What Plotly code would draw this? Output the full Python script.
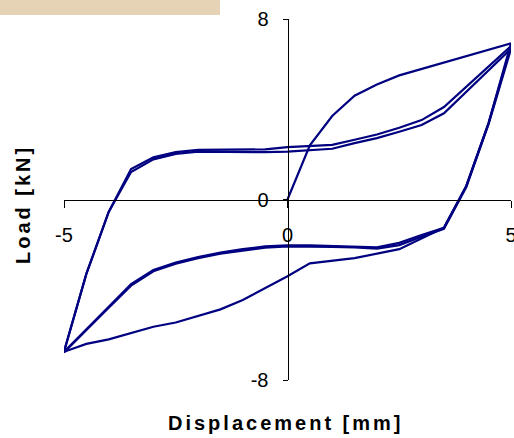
import plotly.graph_objects as go

# Displacement steps (mm) and measured load (kN) for each loading branch
disp_virgin = [0.0, 0.5, 1.0, 1.5, 2.0, 2.5, 5.0]
load_virgin = [0.0, 2.4, 3.7, 4.6, 5.1, 5.5, 6.92]

disp_unload_1 = [5.0, 4.5, 4.0, 3.5, 2.5, 2.0, 1.5, 0.5, 0.0, -1.0, -1.5, -2.5, -3.0, -4.0, -4.5, -5.0]
load_unload_1 = [6.92, 3.4, 0.6, -1.25, -2.2, -2.39, -2.6, -2.83, -3.4, -4.45, -4.87, -5.45, -5.64, -6.2, -6.4, -6.75]

disp_reload = [-5.0, -4.5, -4.0, -3.5, -3.0, -2.5, -2.0, -1.0, -0.5, 0.0, 0.5, 1.0, 1.5, 2.0, 2.5, 3.0, 3.5, 5.0]
load_reload_1 = [-6.75, -3.3, -0.55, 1.35, 1.87, 2.1, 2.2, 2.2, 2.22, 2.32, 2.36, 2.42, 2.65, 2.88, 3.18, 3.52, 4.1, 6.8]
load_reload_2 = [-6.75, -3.3, -0.55, 1.22, 1.78, 2.02, 2.12, 2.1, 2.1, 2.12, 2.2, 2.25, 2.5, 2.72, 3.0, 3.3, 3.82, 6.68]

disp_unload = [5.0, 4.5, 4.0, 3.5, 3.0, 2.5, 2.0, 1.5, 1.0, 0.5, 0.0, -0.5, -1.0, -1.5, -2.0, -2.5, -3.0, -3.5, -4.0, -4.5, -5.0]
load_unload_2 = [6.8, 3.4, 0.6, -1.25, -1.57, -1.92, -2.12, -2.08, -2.05, -2.03, -2.03, -2.08, -2.2, -2.35, -2.55, -2.8, -3.12, -3.75, -4.75, -5.75, -6.75]
load_unload_3 = [6.68, 3.35, 0.55, -1.3, -1.65, -2.02, -2.18, -2.12, -2.1, -2.08, -2.08, -2.13, -2.25, -2.4, -2.6, -2.85, -3.18, -3.82, -4.8, -5.78, -6.78]

x_ticks = [-5, 0, 5]
x_ticktext = ["-5", "0", "5"]
y_ticks = [-8, 0, 8]
y_ticktext = ["-8", "0", "8"]

LINE = dict(color="#000080", width=2.2)
FONT = "Liberation Sans, Arial, sans-serif"

branches = [
    (disp_virgin, load_virgin),
    (disp_unload_1, load_unload_1),
    (disp_reload, load_reload_1),
    (disp_unload, load_unload_2),
    (disp_reload, load_reload_2),
    (disp_unload, load_unload_3),
]

fig = go.Figure()
for xs, ys in branches:
    fig.add_trace(go.Scatter(x=xs, y=ys, mode="lines", line=LINE,
                             showlegend=False, hoverinfo="skip"))

W, H = 514, 438
x_dom = [64 / W, 511 / W]
y_dom = [1 - 380 / H, 1 - 19 / H]
x_zero_paper = (x_dom[0] + x_dom[1]) / 2
y_zero_paper = (y_dom[0] + y_dom[1]) / 2

fig.update_layout(
    width=W, height=H,
    margin=dict(l=0, r=0, t=0, b=0, pad=0, autoexpand=False),
    paper_bgcolor="white", plot_bgcolor="white",
    font=dict(family=FONT, size=20, color="black"),
    xaxis=dict(
        domain=x_dom, range=[-5, 5], anchor="free", position=y_zero_paper,
        automargin=False, ticklabeloverflow="allow",
        showgrid=False, zeroline=False, showline=True, linecolor="black", linewidth=1,
        ticks="outside", ticklen=7, tickcolor="black", tickwidth=1,
        tickvals=x_ticks, ticktext=x_ticktext, ticklabelstandoff=10,
        tickfont=dict(size=20, family=FONT),
    ),
    yaxis=dict(
        domain=y_dom, range=[-8, 8], anchor="free", position=x_zero_paper,
        automargin=False, ticklabeloverflow="allow",
        showgrid=False, zeroline=False, showline=True, linecolor="black", linewidth=1,
        ticks="outside", ticklen=5, tickcolor="black", tickwidth=1,
        tickvals=y_ticks, ticktext=y_ticktext, ticklabelstandoff=10,
        tickfont=dict(size=20, family=FONT),
    ),
    shapes=[dict(type="rect", xref="paper", yref="paper",
                 x0=0, x1=220 / W, y0=1 - 15 / H, y1=1,
                 fillcolor="#E6D2B5", line=dict(width=0), layer="below")],
    annotations=[
        dict(text='<span style="letter-spacing:3px">Displacement [mm]</span>',
             xref="paper", yref="paper", x=286 / W, y=1 - 423 / H,
             showarrow=False, xanchor="center", yanchor="middle",
             font=dict(size=20, family=FONT, weight="bold")),
        dict(text='<span style="letter-spacing:3px">Load [kN]</span>',
             xref="paper", yref="paper", x=23 / W, y=1 - 205 / H, textangle=-90,
             showarrow=False, xanchor="center", yanchor="middle",
             font=dict(size=20, family=FONT, weight="bold")),
    ],
)

# Page without body margin so the figure sits flush in the window
fig.write_html(
    "out.html",
    post_script="document.body.style.margin='0';document.body.style.overflow='hidden';",
)
